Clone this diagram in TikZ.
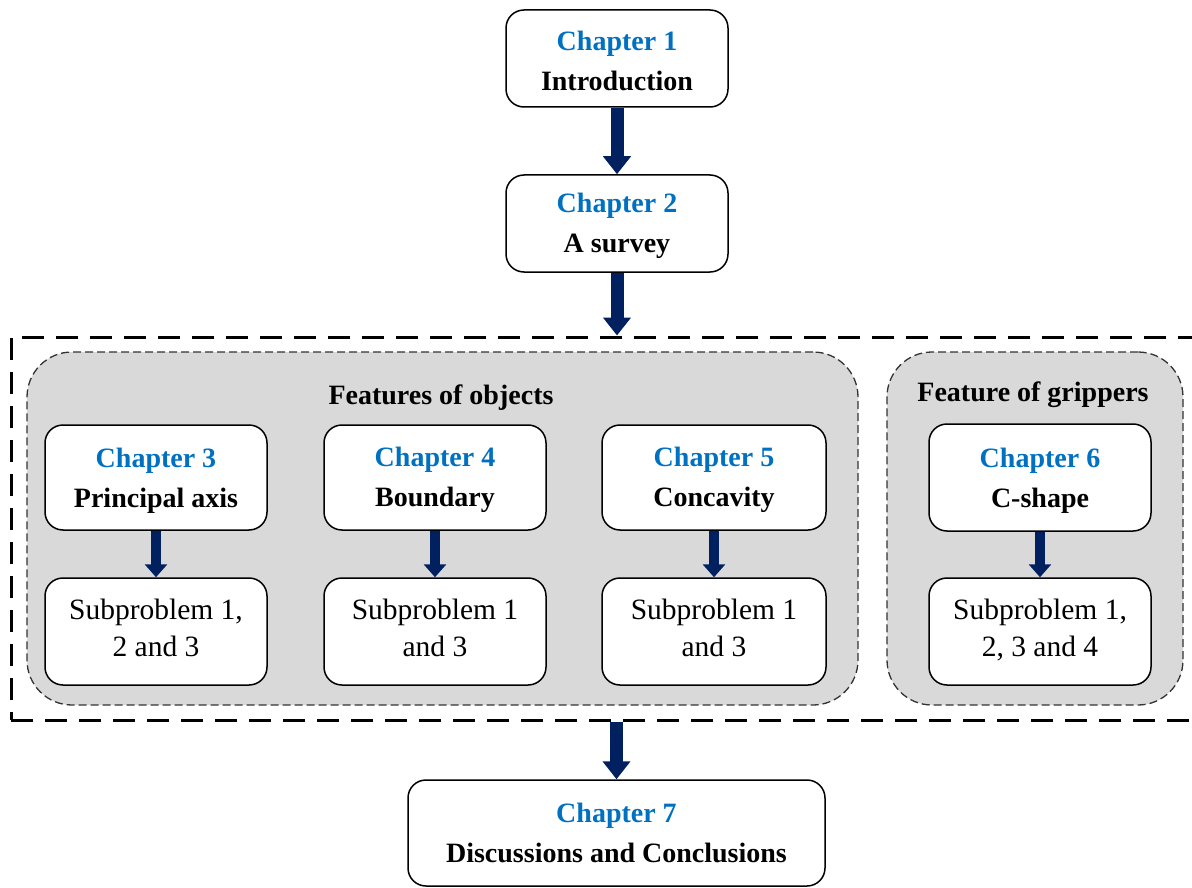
\documentclass[tikz,border=0pt]{standalone}
\usepackage{fontspec}
\setmainfont{Liberation Serif}
\usetikzlibrary{arrows.meta}
\definecolor{chblue}{RGB}{0,112,192}
\definecolor{navy}{RGB}{0,32,96}
\definecolor{panel}{RGB}{217,217,217}
\newcommand{\chtxt}[2]{\rule{0pt}{25pt}\textcolor{chblue}{\textbf{#1}}\\\textbf{#2}}
\newcommand{\chtxtplain}[2]{\textcolor{chblue}{\textbf{#1}}\\\textbf{#2}}
\newcommand{\sublow}{\rule[-8pt]{0pt}{8pt}}
\begin{document}
\begin{tikzpicture}[x=1pt,y=-1pt,
  box/.style={draw=black, line width=1.5pt, fill=white, rounded corners=18pt, align=center, inner sep=0pt},
  chap/.style={box, minimum width=222pt, minimum height=97pt, font=\fontsize{28}{40}\selectfont},
  subbox/.style={box, minimum width=222pt, minimum height=107pt, font=\fontsize{29.5}{37}\selectfont},
  panelbox/.style={draw=black!80, line width=1.3pt, dash pattern=on 8pt off 4pt, fill=panel, rounded corners=45pt, inner sep=0pt},
  outerbox/.style={draw=black, line width=3pt, dash pattern=on 22pt off 12pt, inner sep=0pt},
  paneltitle/.style={font=\fontsize{28}{34}\selectfont\bfseries, inner sep=0pt},
  bigarrow/.style={draw=navy, line width=13pt, -{Triangle[width=27pt,length=18pt]}},
  smallarrow/.style={draw=navy, line width=10pt, -{Triangle[width=22pt,length=13pt]}}
]
\useasboundingbox (0,0) rectangle (1192,888);
% outer dashed frame
\node[outerbox, minimum width=1185pt, minimum height=383pt] (outer) at (603.5,528.5) {};
% panels
\node[panelbox, minimum width=831pt, minimum height=353pt] (p1) at (442.5,528.5) {};
\node[panelbox, minimum width=296pt, minimum height=353pt] (p2) at (1035,528.5) {};
\node[paneltitle] (t1) at (441,398) {Features of objects};
\node[paneltitle] (t2) at (1033,395) {Feature of grippers};
% chapter boxes
\node[chap] (c1) at (617,58.5) {\chtxt{Chapter 1}{Introduction}};
\node[chap] (c2) at (617,223.5) {\chtxt{Chapter 2}{A survey}};
\node[chap, minimum height=105pt] (c3) at (156,477.5) {\chtxt{Chapter 3}{Principal axis}};
\node[chap, minimum height=105pt] (c4) at (435,477.5) {\chtxt{Chapter 4}{Boundary}};
\node[chap, minimum height=105pt, minimum width=224pt] (c5) at (714,477.5) {\chtxt{Chapter 5}{Concavity}};
\node[chap, minimum height=107pt] (c6) at (1040,477.5) {\chtxt{Chapter 6}{C-shape}};
\node[subbox] (s3) at (156,631.5) {Subproblem 1,\\2 and 3\sublow};
\node[subbox] (s4) at (435,631.5) {Subproblem 1\\and 3\sublow};
\node[subbox, minimum width=224pt] (s5) at (714,631.5) {Subproblem 1\\and 3\sublow};
\node[subbox] (s6) at (1040,631.5) {Subproblem 1,\\2, 3 and 4\sublow};
\node[chap, minimum width=417pt, minimum height=106pt] (c7) at (616.5,833) {\chtxtplain{Chapter 7}{Discussions and Conclusions}};
% arrows
\draw[bigarrow] (c1.south) -- (c2.north);
\draw[bigarrow] (c2.south) -- (c2.south |- outer.north);
\draw[bigarrow] (c7.north |- outer.south) -- (c7.north);
\draw[smallarrow] (c3.south) -- (s3.north);
\draw[smallarrow] (c4.south) -- (s4.north);
\draw[smallarrow] (c5.south) -- (s5.north);
\draw[smallarrow] (c6.south) -- (s6.north);
\end{tikzpicture}
\end{document}
